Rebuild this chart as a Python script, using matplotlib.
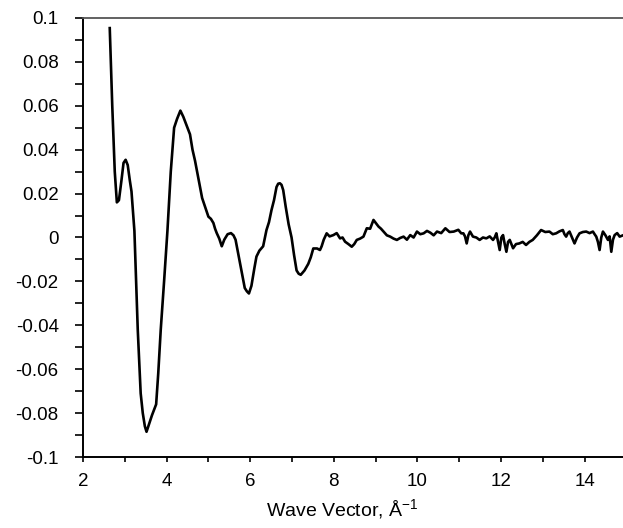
import numpy as np
import matplotlib
matplotlib.use("Agg")
import matplotlib.pyplot as plt
from matplotlib.ticker import MultipleLocator

plt.rcParams['font.family'] = ['Liberation Sans', 'DejaVu Sans']

# wave vector (1/Angstrom) and signal
k = [2.64, 2.70, 2.76, 2.81, 2.86, 2.92, 2.97, 3.02, 3.07, 3.12, 3.16, 3.20, 3.23,
     3.27, 3.31, 3.35, 3.38, 3.43, 3.48, 3.52, 3.58, 3.65, 3.75, 3.80, 3.86, 3.94,
     4.02, 4.10, 4.18, 4.25, 4.33, 4.40, 4.48, 4.56, 4.62, 4.68, 4.76, 4.85, 4.92,
     5.00, 5.06, 5.12, 5.16, 5.20, 5.26, 5.32, 5.38, 5.46, 5.54, 5.60, 5.65, 5.72,
     5.80, 5.87, 5.92, 5.97, 6.03, 6.10, 6.15, 6.22, 6.31, 6.39, 6.45, 6.51, 6.57,
     6.63, 6.67, 6.71, 6.75, 6.79, 6.85, 6.92, 6.99, 7.05, 7.11, 7.16, 7.21, 7.30,
     7.39, 7.45, 7.51, 7.60, 7.67, 7.71, 7.76, 7.83, 7.90, 7.99, 8.07, 8.15, 8.21,
     8.27, 8.35, 8.43, 8.49, 8.55, 8.63, 8.71, 8.79, 8.87, 8.95, 9.01, 9.07, 9.13,
     9.19, 9.27, 9.35, 9.43, 9.51, 9.59, 9.67, 9.75, 9.83, 9.91, 9.99, 10.07, 10.15,
     10.23, 10.31, 10.39, 10.47, 10.57, 10.67, 10.77, 10.87, 10.98, 11.05, 11.10,
     11.14, 11.18, 11.22, 11.26, 11.33, 11.41, 11.49, 11.57, 11.65, 11.73, 11.81,
     11.85, 11.89, 11.93, 11.97, 12.01, 12.05, 12.09, 12.13, 12.17, 12.21, 12.25,
     12.29, 12.36, 12.44, 12.52, 12.60, 12.68, 12.76, 12.86, 12.96, 13.06, 13.16,
     13.24, 13.32, 13.40, 13.48, 13.52, 13.56, 13.60, 13.64, 13.70, 13.76, 13.82,
     13.88, 13.96, 14.04, 14.12, 14.20, 14.24, 14.28, 14.32, 14.36, 14.40, 14.44,
     14.50, 14.56, 14.60, 14.64, 14.68, 14.72, 14.78, 14.84, 14.92]
chi = [0.0954, 0.0600, 0.0300, 0.0160, 0.0170, 0.0260, 0.0340, 0.0354, 0.0330, 0.0260,
       0.0210, 0.0110, 0.0030, -0.0200, -0.0420, -0.0580, -0.0710, -0.0800, -0.0860,
       -0.0885, -0.0850, -0.0810, -0.0760, -0.0620, -0.0420, -0.0200, 0.0030, 0.0300,
       0.0500, 0.0540, 0.0578, 0.0550, 0.0510, 0.0470, 0.0400, 0.0350, 0.0270, 0.0180,
       0.0140, 0.0095, 0.0085, 0.0066, 0.0040, 0.0020, -0.0005, -0.0040, -0.0010,
       0.0015, 0.0020, 0.0010, -0.0010, -0.0080, -0.0160, -0.0230, -0.0245, -0.0255,
       -0.0220, -0.0140, -0.0087, -0.0060, -0.0040, 0.0034, 0.0070, 0.0125, 0.0170,
       0.0230, 0.0245, 0.0247, 0.0240, 0.0216, 0.0140, 0.0060, 0.0000, -0.0080,
       -0.0150, -0.0165, -0.0170, -0.0150, -0.0120, -0.0090, -0.0050, -0.0050,
       -0.0057, -0.0040, -0.0010, 0.0019, 0.0005, 0.0011, 0.0020, -0.0004, 0.0000,
       -0.0019, -0.0030, -0.0042, -0.0030, -0.0011, -0.0005, 0.0004, 0.0042, 0.0040,
       0.0080, 0.0065, 0.0050, 0.0040, 0.0027, 0.0010, 0.0004, -0.0005, -0.0011,
       -0.0002, 0.0004, -0.0010, 0.0011, 0.0000, 0.0027, 0.0015, 0.0019, 0.0030,
       0.0022, 0.0010, 0.0027, 0.0020, 0.0042, 0.0025, 0.0027, 0.0035, 0.0019, 0.0019,
       0.0005, -0.0027, 0.0010, 0.0027, 0.0004, 0.0000, -0.0011, 0.0000, -0.0004,
       0.0005, -0.0011, 0.0000, 0.0019, -0.0020, -0.0057, 0.0000, 0.0011, -0.0030,
       -0.0065, -0.0020, -0.0011, -0.0030, -0.0049, -0.0030, -0.0027, -0.0020,
       -0.0034, -0.0020, -0.0011, 0.0010, 0.0034, 0.0025, 0.0027, 0.0015, 0.0019,
       0.0028, 0.0034, 0.0015, 0.0004, 0.0020, 0.0027, 0.0000, -0.0027, 0.0000,
       0.0019, 0.0025, 0.0027, 0.0020, 0.0027, 0.0015, 0.0004, -0.0020, -0.0057,
       0.0000, 0.0027, 0.0010, -0.0011, 0.0005, -0.0065, -0.0010, 0.0011, 0.0020,
       0.0004, 0.0010]

fig = plt.figure(figsize=(6.23, 5.28), dpi=100)
ax = fig.add_axes([83 / 623, 1 - 457 / 528, 1 - 83 / 623, (457 - 18) / 528])

ax.plot(k, chi, color='black', lw=1.9)

ax.set_xlim(2, 14.92)
ax.set_ylim(-0.1, 0.1)

ax.xaxis.set_major_locator(MultipleLocator(2))
ax.xaxis.set_minor_locator(MultipleLocator(1))
ax.yaxis.set_minor_locator(MultipleLocator(0.01))
ax.set_yticks(np.arange(-0.1, 0.101, 0.02))
ax.set_yticklabels(['-0.1', '-0.08', '-0.06', '-0.04', '-0.02', '0',
                    '0.02', '0.04', '0.06', '0.08', '0.1'])

ax.tick_params(axis='y', which='both', direction='out', length=5.5, width=1.2,
               labelsize=13.5, pad=12)
ax.tick_params(axis='x', which='both', direction='out', length=3.5, width=1.2,
               labelsize=13.5, pad=8)

for s in ['left', 'bottom']:
    ax.spines[s].set_linewidth(1.4)
ax.spines['top'].set_color('#555555')
ax.spines['top'].set_linewidth(1.3)
ax.spines['right'].set_visible(False)

ax.set_xlabel('Wave Vector, Å$^{\\mathregular{-1}}$', fontsize=14)
ax.xaxis.set_label_coords(0.48, -0.093)

fig.savefig('out.png', dpi=100)
